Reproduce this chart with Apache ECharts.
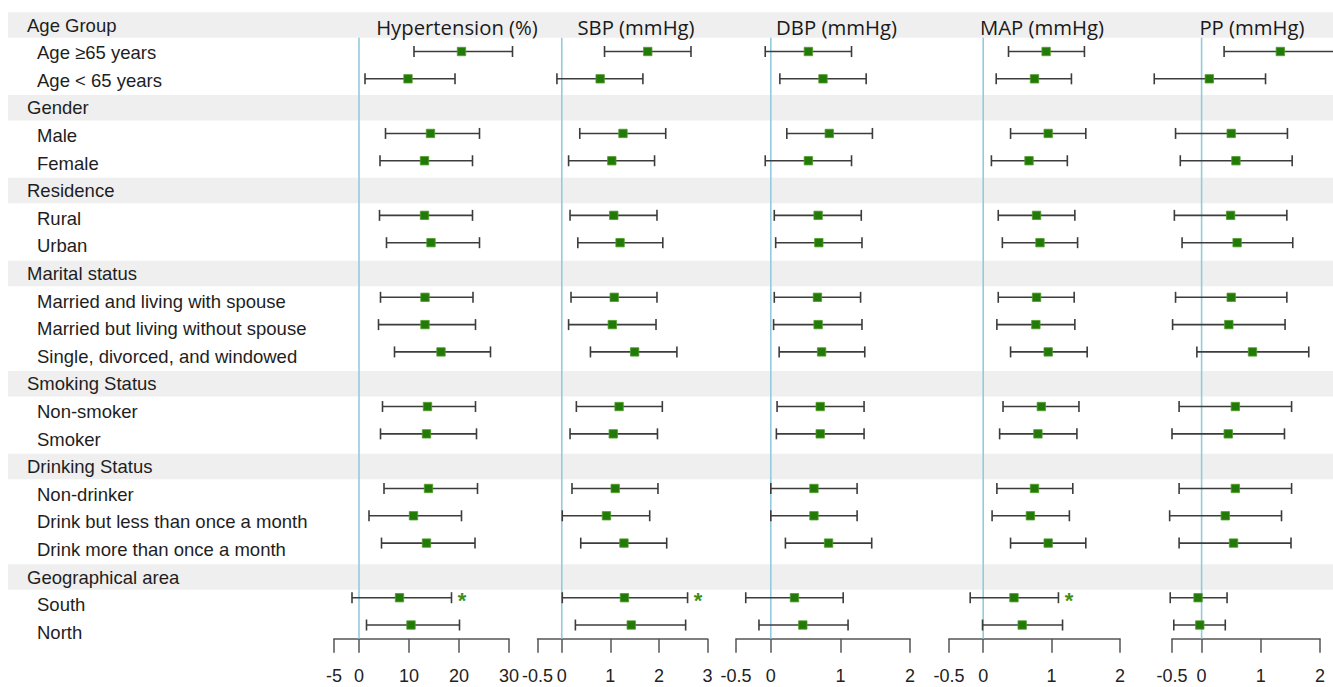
<!DOCTYPE html>
<html>
<head>
<meta charset="utf-8">
<script src="https://cdn.jsdelivr.net/npm/echarts@6/dist/echarts.min.js"></script>
<style>html,body{margin:0;padding:0;background:#fff;}#chart{width:1333px;height:687px;}</style>
</head>
<body>
<div id="chart"></div>
<script>
// ---------------- DATA ----------------
const rowLabels = ['Age Group','Age ≥65 years','Age < 65 years','Gender','Male','Female','Residence','Rural','Urban',
  'Marital status','Married and living with spouse','Married but living without spouse','Single, divorced, and windowed',
  'Smoking Status','Non-smoker','Smoker','Drinking Status','Non-drinker','Drink but less than once a month',
  'Drink more than once a month','Geographical area','South','North'];
const headerRows = ['Age Group','Gender','Residence','Marital status','Smoking Status','Drinking Status','Geographical area'];
const items = rowLabels.filter(r => !headerRows.includes(r));

const panelTitles = ['Hypertension (%)','SBP (mmHg)','DBP (mmHg)','MAP (mmHg)','PP (mmHg)'];
const hypTicks = [-5, 0, 10, 20, 30];
const sbpTicks = [-0.5, 0, 1, 2, 3];
const dbpTicks = [-0.5, 0, 1, 2];
const mapTicks = [-0.5, 0, 1, 2];
const ppTicks  = [-0.5, 0, 1, 2];

const hypEst  = [20.5, 9.8, 14.3, 13.1, 13.1, 14.4, 13.2, 13.2, 16.4, 13.7, 13.5, 13.9, 10.9, 13.5, 8.1, 10.4];
const hypLow  = [11.0, 1.2, 5.3, 4.2, 4.1, 5.5, 4.3, 3.9, 7.1, 4.7, 4.3, 5.0, 2.0, 4.5, -1.4, 1.5];
const hypHigh = [30.7, 19.2, 24.1, 22.7, 22.7, 24.1, 22.8, 23.3, 26.3, 23.3, 23.5, 23.7, 20.5, 23.2, 18.5, 20.1];

const sbpEst  = [1.77, 0.79, 1.26, 1.03, 1.07, 1.20, 1.08, 1.04, 1.50, 1.18, 1.06, 1.10, 0.92, 1.28, 1.29, 1.43];
const sbpLow  = [0.88, -0.10, 0.37, 0.14, 0.17, 0.33, 0.19, 0.14, 0.59, 0.30, 0.17, 0.21, 0.01, 0.39, 0.01, 0.28];
const sbpHigh = [2.66, 1.67, 2.14, 1.91, 1.96, 2.08, 1.96, 1.94, 2.37, 2.07, 1.97, 1.98, 1.81, 2.16, 2.59, 2.55];

const dbpEst  = [0.54, 0.75, 0.84, 0.54, 0.68, 0.69, 0.67, 0.68, 0.73, 0.71, 0.71, 0.62, 0.62, 0.83, 0.34, 0.46];
const dbpLow  = [-0.08, 0.13, 0.23, -0.08, 0.05, 0.07, 0.05, 0.04, 0.12, 0.09, 0.08, 0.00, 0.00, 0.21, -0.36, -0.17];
const dbpHigh = [1.16, 1.37, 1.46, 1.16, 1.30, 1.31, 1.29, 1.31, 1.35, 1.34, 1.34, 1.24, 1.24, 1.45, 1.04, 1.11];

const mapEst  = [0.92, 0.75, 0.95, 0.67, 0.78, 0.83, 0.78, 0.77, 0.95, 0.85, 0.80, 0.75, 0.69, 0.95, 0.45, 0.57];
const mapLow  = [0.37, 0.19, 0.40, 0.12, 0.22, 0.28, 0.22, 0.20, 0.40, 0.29, 0.24, 0.20, 0.13, 0.40, -0.19, -0.01];
const mapHigh = [1.48, 1.29, 1.50, 1.23, 1.34, 1.38, 1.33, 1.34, 1.52, 1.40, 1.37, 1.31, 1.26, 1.50, 1.10, 1.16];

const ppEst  = [1.33, 0.13, 0.50, 0.58, 0.49, 0.60, 0.50, 0.46, 0.86, 0.57, 0.45, 0.57, 0.40, 0.54, -0.06, -0.03];
const ppLow  = [0.38, -0.80, -0.44, -0.36, -0.46, -0.33, -0.44, -0.49, -0.08, -0.38, -0.50, -0.38, -0.54, -0.38, -0.53, -0.47];
const ppHigh = [2.30, 1.08, 1.45, 1.53, 1.44, 1.54, 1.44, 1.41, 1.81, 1.52, 1.40, 1.52, 1.35, 1.51, 0.43, 0.40];

const hypSig = ['South'];
const sbpSig = ['South'];
const dbpSig = [];
const mapSig = ['South'];
const ppSig  = [];

// ---------------- LAYOUT / STYLE ----------------
const NROW = rowLabels.length;
const LBL_ROW = 27.6, LBL_TOP = 25 - LBL_ROW / 2;          // label / band grid
const BAR_ROW = 27.31, BAR_TOP = 24.2 - BAR_ROW / 2;       // panel grids (bottom edge = axis line)
const FONT = 'Liberation Sans, Arial, sans-serif';

const panels = [
  { ticks: hypTicks, est: hypEst, low: hypLow, high: hypHigh, sig: hypSig, left: 334,   width: 175, titleX: 457 },
  { ticks: sbpTicks, est: sbpEst, low: sbpLow, high: sbpHigh, sig: sbpSig, left: 537.5, width: 170, titleX: 636 },
  { ticks: dbpTicks, est: dbpEst, low: dbpLow, high: dbpHigh, sig: dbpSig, left: 736,   width: 174, titleX: 836.5 },
  { ticks: mapTicks, est: mapEst, low: mapLow, high: mapHigh, sig: mapSig, left: 949,   width: 171, titleX: 1042 },
  { ticks: ppTicks,  est: ppEst,  low: ppLow,  high: ppHigh,  sig: ppSig,  left: 1172,  width: 148, titleX: 1252 }
];

function renderCI(params, api) {
  const row = api.value(0);
  const pLo = api.coord([api.value(1), row]);
  const pEst = api.coord([api.value(2), row]);
  const pHi = api.coord([api.value(3), row]);
  const y = pEst[1];
  const cap = 5.5, sq = 4.2;
  const ls = { stroke: '#3c3c3c', lineWidth: 1.6 };
  const children = [
    { type: 'line', shape: { x1: pLo[0], y1: y, x2: pHi[0], y2: y }, style: ls },
    { type: 'line', shape: { x1: pLo[0], y1: y - cap, x2: pLo[0], y2: y + cap }, style: ls },
    { type: 'line', shape: { x1: pHi[0], y1: y - cap, x2: pHi[0], y2: y + cap }, style: ls },
    { type: 'rect', shape: { x: pEst[0] - sq, y: y - sq, width: 2 * sq, height: 2 * sq },
      style: { fill: '#237a08', stroke: '#4f9d2a', lineWidth: 0.8 } }
  ];
  if (api.value(4)) {
    children.push({ type: 'text', x: pHi[0] + 10.5, y: y + 3,
      style: { text: '*', fill: '#3f8f14', font: 'bold 22px ' + FONT, align: 'center', verticalAlign: 'middle' } });
  }
  return { type: 'group', children };
}

function renderZero(params, api) {
  const cs = params.coordSys;
  const p = api.coord([0, 1]);
  const yTop = p[1] - api.size([0, 1])[1] / 2;
  const yBot = cs.y + cs.height;
  return { type: 'line', shape: { x1: p[0], y1: yTop, x2: p[0], y2: yBot },
    style: { stroke: '#93cbdd', lineWidth: 1.6 } };
}

function renderBand(params, api) {
  const cs = params.coordSys;
  const c = api.coord([0, api.value(0)]);
  const h = 25.5;
  return { type: 'rect', shape: { x: cs.x, y: c[1] - h / 2, width: cs.width, height: h },
    style: { fill: '#efefef' } };
}

const grids = [], xAxes = [], yAxes = [], series = [], titles = [];

panels.forEach((p, i) => {
  grids.push({ left: p.left, width: p.width, top: BAR_TOP, height: NROW * BAR_ROW });
  xAxes.push({
    gridIndex: i, type: 'value', min: p.ticks[0], max: p.ticks[p.ticks.length - 1],
    position: 'bottom',
    axisLine: { show: true, lineStyle: { color: '#555', width: 1.5 } },
    axisTick: { show: true, length: 14, customValues: p.ticks, lineStyle: { color: '#555', width: 1.5 } },
    axisLabel: { customValues: p.ticks, margin: 28, fontSize: 18, fontFamily: FONT, color: '#222',
      formatter: v => String(v) },
    splitLine: { show: false }
  });
  yAxes.push({ gridIndex: i, type: 'category', data: rowLabels, inverse: true, show: false });
  series.push({
    type: 'custom', xAxisIndex: i, yAxisIndex: i, z: 3, silent: true,
    data: [[0, 1]], encode: { x: 0, y: 1 }, renderItem: renderZero
  });
  series.push({
    type: 'custom', xAxisIndex: i, yAxisIndex: i, z: 5, silent: true,
    data: items.map((name, k) => [rowLabels.indexOf(name), p.low[k], p.est[k], p.high[k], p.sig.includes(name) ? 1 : 0]),
    encode: { x: [1, 2, 3], y: 0 }, renderItem: renderCI
  });
  titles.push({
    text: panelTitles[i], left: p.titleX, top: 16, textAlign: 'center', padding: 0,
    textStyle: { fontFamily: 'Open Sans', fontSize: 20.3, fontWeight: 'normal', color: '#1a1a1a', lineHeight: 22 }
  });
});

// label / band grid
const LG = panels.length;
grids.push({ left: 8, right: 0, top: LBL_TOP, height: NROW * LBL_ROW });
xAxes.push({ gridIndex: LG, type: 'value', min: 0, max: 1, show: false });
yAxes.push({
  gridIndex: LG, type: 'category', data: rowLabels, inverse: true, z: 10,
  axisLine: { show: false }, axisTick: { show: false },
  axisLabel: {
    inside: true, margin: 19, interval: 0,
    formatter: v => headerRows.includes(v) ? '{h|' + v + '}' : '{i|' + v + '}',
    rich: {
      h: { fontSize: 18.5, fontFamily: FONT, color: '#1e1e1e' },
      i: { fontSize: 18.5, fontFamily: FONT, color: '#1e1e1e', padding: [0, 0, 0, 10] }
    }
  }
});
series.push({
  type: 'custom', xAxisIndex: LG, yAxisIndex: LG, z: 1, silent: true,
  data: headerRows.map(h => [rowLabels.indexOf(h)]), encode: { y: 0 }, renderItem: renderBand
});

const chart = echarts.init(document.getElementById('chart'), null, { renderer: 'svg' });
chart.setOption({
  animation: false,
  backgroundColor: '#ffffff',
  title: titles,
  grid: grids,
  xAxis: xAxes,
  yAxis: yAxes,
  series: series
});
</script>
</body>
</html>
